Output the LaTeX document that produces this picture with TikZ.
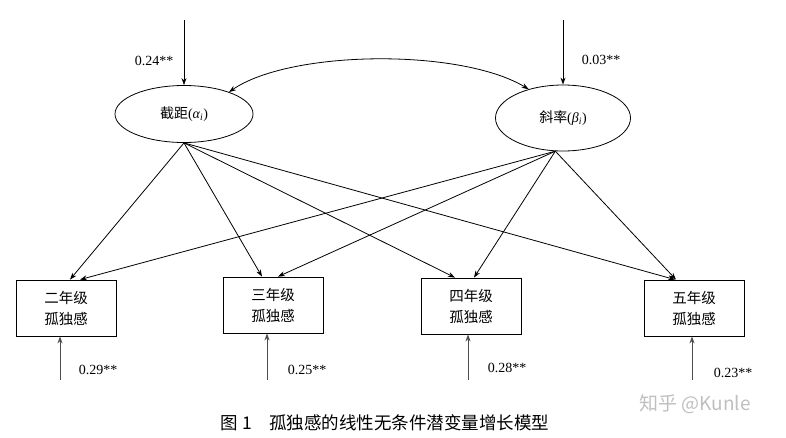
\documentclass[tikz,border=0pt]{standalone}
\usepackage{fontspec}
\setmainfont{Liberation Serif}
\newfontfamily\cjk{Noto Sans CJK SC}
\usetikzlibrary{shapes.geometric,arrows.meta}

\begin{document}
\begin{tikzpicture}[x=1pt,y=-1pt,thick,>={Stealth[length=7pt,width=5pt]},
latent/.style={ellipse,draw,thick,inner sep=0pt,font=\cjk\fontsize{14}{16}\selectfont},
measure/.style={draw,rectangle,thick,minimum width=100pt,minimum height=56pt,align=center,font=\cjk\fontsize{14.5}{21}\selectfont},
coef/.style={font=\fontsize{14}{16}\selectfont},
resid/.style={->,black!70,line width=1pt}]
\useasboundingbox (0,0) rectangle (786,437);
\draw (184,114) node[latent,minimum width=138pt,minimum height=57pt] (ia) {截距{\rmfamily(\itshape α\textsubscript{i}\upshape)}};
\draw (563,118) node[latent,minimum width=135pt,minimum height=66pt] (sl) {斜率{\rmfamily(\itshape β\textsubscript{i}\upshape)}};
\draw (66,308) node[measure] (g2) {二年级\\孤独感};
\draw (273,305) node[measure] (g3) {三年级\\孤独感};
\draw (471,306) node[measure] (g4) {四年级\\孤独感};
\draw (694,308) node[measure] (g5) {五年级\\孤独感};
\coordinate (ea) at (184,20);
\coordinate (es) at (563,20);
\draw[->] (ea) -- (ia.north);
\draw[->] (es) -- (sl.north);
\node[coef] (la) at (154,61) {0.24**};
\node[coef] (ls) at (601,60) {0.03**};
\draw[<->] (ia.26) .. controls (290,50) and (460,48) .. (sl.140);
\draw[->] (ia.south) -- ([xshift=4pt]g2.north);
\draw[->] (ia.south) -- ([xshift=-11pt]g3.north);
\draw[->] (ia.south) -- ([xshift=-16pt]g4.north);
\draw[->] (ia.south) -- ([xshift=-19pt]g5.north);
\draw[->] (sl.257) -- ([xshift=14pt]g2.north);
\draw[->] (sl.257) -- ([xshift=5pt]g3.north);
\draw[->] (sl.257) -- ([xshift=3pt]g4.north);
\draw[->] (sl.257) -- ([xshift=-18pt]g5.north);
\coordinate (e2) at (60,380);
\coordinate (e3) at (267,380);
\coordinate (e4) at (468,380);
\coordinate (e5) at (692,380);
\draw[resid] (e2) -- (e2 |- g2.south);
\draw[resid] (e3) -- (e3 |- g3.south);
\draw[resid] (e4) -- (e4 |- g4.south);
\draw[resid] (e5) -- (e5 |- g5.south);
\node[coef] (l2) at (98,370) {0.29**};
\node[coef] (l3) at (307,370) {0.25**};
\node[coef] (l4) at (507,368) {0.28**};
\node[coef] (l5) at (733,373) {0.23**};
\node[font=\cjk\fontsize{17.5}{20}\selectfont] (cap) at (385,423) {图 1\quad 孤独感的线性无条件潜变量增长模型};
\node[font=\cjk\fontsize{19}{20}\selectfont,text=black!25] (wm) at (695,404) {知乎 @Kunle};

\end{tikzpicture}
\end{document}
